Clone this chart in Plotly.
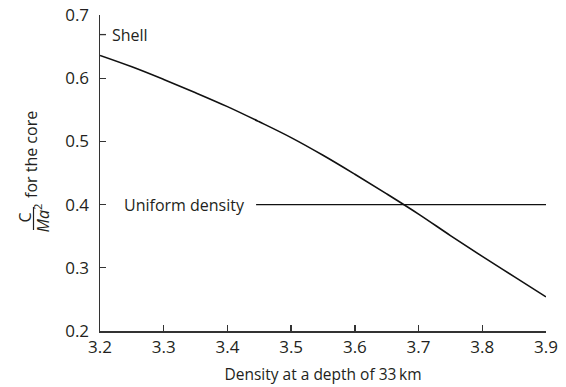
import plotly.graph_objects as go

# Data
density = [3.2, 3.25, 3.3, 3.35, 3.4, 3.45, 3.5, 3.55, 3.6, 3.65, 3.7, 3.75, 3.8, 3.85, 3.9]
shell_c = [0.636, 0.618, 0.598, 0.577, 0.555, 0.531, 0.506, 0.478, 0.448, 0.417, 0.385, 0.351, 0.318, 0.286, 0.254]
uniform_x = [3.445, 3.9]
uniform_c = [0.4, 0.4]
x_ticks = [3.2, 3.3, 3.4, 3.5, 3.6, 3.7, 3.8, 3.9]
y_ticks = [0.2, 0.3, 0.4, 0.5, 0.6, 0.7]
shell_marker_y = 0.669

FONT = "Open Sans"
TXT = "#231f20"
AX = "#333333"

fig = go.Figure()
fig.add_trace(go.Scatter(x=density, y=shell_c, mode="lines",
                         line=dict(color="#111111", width=1.6, shape="spline"),
                         showlegend=False, hoverinfo="skip"))
fig.add_trace(go.Scatter(x=uniform_x, y=uniform_c, mode="lines",
                         line=dict(color="#111111", width=1.4),
                         showlegend=False, hoverinfo="skip"))

fig.update_layout(
    width=566, height=387,
    margin=dict(l=100, r=20, t=15, b=56, autoexpand=False),
    paper_bgcolor="white", plot_bgcolor="white",
    font=dict(family=FONT, size=16, color=TXT),
    xaxis=dict(range=[3.2, 3.9], tickvals=x_ticks, ticktext=[f"{v:.1f}" for v in x_ticks],
               showline=True, linecolor=AX, linewidth=1.5, ticks="inside",
               ticklen=6, tickwidth=1.3, tickcolor=AX, showgrid=False, zeroline=False,
               automargin=False,
               tickfont=dict(size=17, color=TXT),
               title=dict(text="Density at a depth of 33\u2009km", font=dict(size=15.5, color=TXT),
                          standoff=12)),
    yaxis=dict(range=[0.2, 0.7], tickvals=y_ticks, ticktext=[f"{v:.1f}" for v in y_ticks],
               showline=True, linecolor=AX, linewidth=1.5, ticks="inside",
               ticklen=6, tickwidth=1.3, tickcolor=AX, showgrid=False, zeroline=False,
               ticklabelstandoff=6, automargin=False,
               tickfont=dict(size=17, color=TXT)),
)

def px2paper_x(px):
    return (px - 100) / 446

def px2paper_y(py):
    return (331 - py) / 316

ann = []
ann.append(dict(x=3.2, y=shell_marker_y, xref="x", yref="y", text="Shell", showarrow=False,
                xanchor="left", yanchor="middle", xshift=10, font=dict(size=16, color=TXT)))
ann.append(dict(x=uniform_x[0], y=uniform_c[0], xref="x", yref="y", text="Uniform density",
                showarrow=False, xanchor="right", yanchor="middle", xshift=-9,
                font=dict(size=16, color=TXT)))
# y-axis label: C / Ma^2 for the core (rotated)
ann.append(dict(x=px2paper_x(24.5), y=px2paper_y(218), xref="paper", yref="paper", text="C",
                showarrow=False, textangle=-90, xanchor="center", yanchor="middle",
                font=dict(size=16, color=TXT)))
ann.append(dict(x=px2paper_x(42.5), y=px2paper_y(218), xref="paper", yref="paper",
                text="<i>Ma</i><sup>2</sup>", showarrow=False, textangle=-90,
                xanchor="center", yanchor="middle", font=dict(size=16, color=TXT)))
ann.append(dict(x=px2paper_x(31), y=px2paper_y(155), xref="paper", yref="paper",
                text="for the core", showarrow=False, textangle=-90,
                xanchor="center", yanchor="middle", font=dict(size=16, color=TXT)))
fig.update_layout(annotations=ann)
fig.add_shape(type="line", xref="paper", yref="paper",
              x0=px2paper_x(33.5), x1=px2paper_x(33.5), y0=px2paper_y(207), y1=px2paper_y(230),
              line=dict(color=TXT, width=1.2))
# short leader tick for the "Shell" label
fig.add_shape(type="line", xref="x domain", yref="y",
              x0=0, x1=6 / 446, y0=shell_marker_y, y1=shell_marker_y,
              line=dict(color=AX, width=1.3))

fig.write_html("out.html", config={"displayModeBar": False, "staticPlot": True})

with open("out.html", "r", encoding="utf-8") as f:
    html = f.read()
html = html.replace("<head>", "<head><style>html,body{margin:0;padding:0;overflow:hidden;}</style>", 1)
with open("out.html", "w", encoding="utf-8") as f:
    f.write(html)
